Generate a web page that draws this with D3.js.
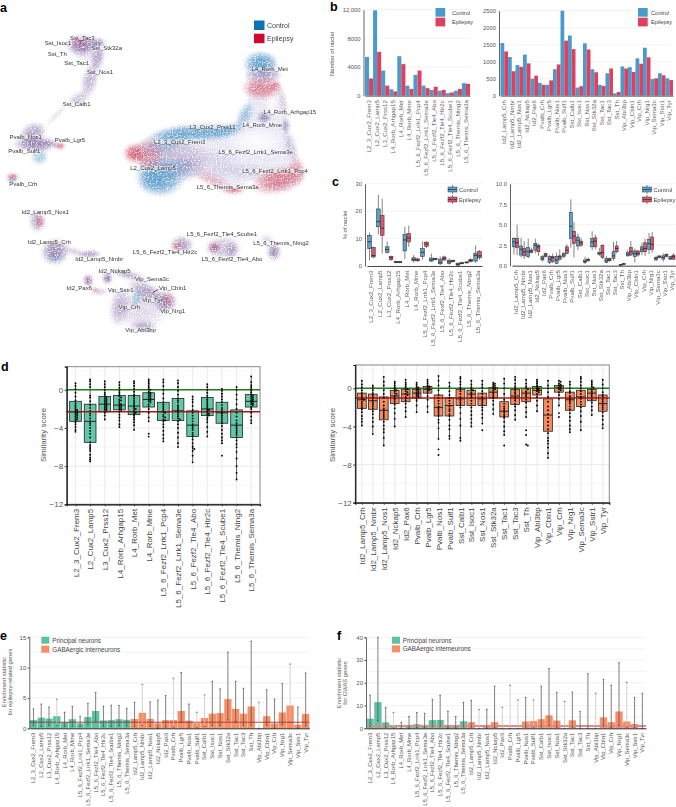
<!DOCTYPE html>
<html>
<head>
<meta charset="utf-8">
<script src="https://cdn.jsdelivr.net/npm/d3@7"></script>
<style>
  html, body { margin: 0; padding: 0; background: #fff; }
  svg { display: block; font-family: "Liberation Sans", Arial, sans-serif; }
</style>
</head>
<body>
<div id="chart"></div>
<script>
// ---------- categories ----------
var principal = ["L2_3_Cux2_Frem3","L2_Cux2_Lamp5","L3_Cux2_Prss12","L4_Rorb_Arhgap15","L4_Rorb_Met","L4_Rorb_Mme","L5_6_Fezf2_Lrrk1_Pcp4","L5_6_Fezf2_Lrrk1_Sema3e","L5_6_Fezf2_Tle4_Abo","L5_6_Fezf2_Tle4_Htr2c","L5_6_Fezf2_Tle4_Scube1","L5_6_Themis_Ntng2","L5_6_Themis_Sema3a"];
var inter = ["Id2_Lamp5_Crh","Id2_Lamp5_Nmbr","Id2_Lamp5_Nos1","Id2_Nckap5","Id2_Pax6","Pvalb_Crh","Pvalb_Lgr5","Pvalb_Nos1","Pvalb_Sulf1","Sst_Calb1","Sst_Isoc1","Sst_Nos1","Sst_Stk32a","Sst_Tac1","Sst_Tac3","Sst_Th","Vip_Abi3bp","Vip_Cbln1","Vip_Crh","Vip_Nrg1","Vip_Sema3c","Vip_Sstr1","Vip_Tyr"];
var allTypes = principal.concat(inter);

var umapLabels = [["Sst_Tac3",247,113],["Sst_Isoc1",174,129],["Sst_Stk32a",320,145],["Sst_Th",172,163],["Sst_Tac1",230,188],["Sst_Nos1",300,217],["Sst_Calb1",230,313],["Pvalb_Nos1",77,411],["Pvalb_Lgr5",210,421],["Pvalb_Sulf1",73,454],["Pvalb_Crh",70,553],["L4_Rorb_Met",809,208],["L4_Rorb_Arhgap15",870,337],["L4_Rorb_Mme",787,375],["L3_Cux2_Prss12",638,380],["L2_3_Cux2_Frem3",539,425],["L5_6_Fezf2_Lrrk1_Sema3e",767,456],["L5_6_Fezf2_Lrrk1_Pcp4",825,514],["L2_Cux2_Lamp5",459,505],["L5_6_Themis_Sema3a",683,562],["Id2_Lamp5_Nos1",136,637],["Id2_Lamp5_Crh",148,726],["Id2_Lamp5_Nmbr",298,778],["Id2_Nckap5",344,812],["Vip_Sema3c",456,837],["Id2_Pax6",238,865],["Vip_Sstr1",362,870],["Vip_Cbln1",518,863],["L5_6_Fezf2_Tle4_Scube1",666,701],["L5_6_Themis_Ntng2",843,730],["L5_6_Fezf2_Tle4_Htr2c",495,756],["L5_6_Fezf2_Tle4_Abo",696,776],["Vip_Tyr",457,900],["Vip_Crh",388,921],["Vip_Nrg1",518,934],["Vip_Abi3bp",422,989]];
var umapLeaders = [[240,130,250,120],[458,878,475,868]];
var principalOutline = [[385,460],[430,420],[480,395],[560,378],[640,380],[700,372],[730,340],[745,290],[740,230],[745,190],[785,165],[820,180],[835,215],[835,270],[850,330],[865,390],[880,440],[905,495],[910,530],[880,565],[840,575],[790,555],[750,540],[720,570],[690,578],[640,560],[590,530],[550,545],[500,575],[460,575],[430,550],[420,490]];
// cx, cy, rx, ry, angle, condition ("c" control, "e" epilepsy, "m" mixed, "w" empty), density
var umapDensity = [
  [770,425,70,32,0,"w",.8],[815,305,16,30,-10,"w",.8],
  [480,530,60,48,0,"c",.95],[455,540,30,30,0,"c",.5],[590,398,115,22,-4,"c",.85],[680,392,45,16,-15,"c",.7],[500,425,70,28,-20,"c",.55],[520,470,90,45,0,"m",.4],[540,505,40,25,0,"c",.45],
  [405,460,28,24,0,"e",1],[445,465,35,40,0,"e",.55],
  [735,345,18,35,25,"c",.55],[782,190,42,30,0,"c",.95],[790,225,45,18,0,"m",.6],[785,265,48,28,0,"e",.75],[825,258,16,12,0,"e",.7],
  [792,352,17,15,0,"m",.95],[857,378,11,18,0,"m",.7],[872,440,16,40,-15,"m",.35],[850,310,9,45,-10,"m",.4],
  [835,540,65,32,-15,"e",.8],[888,515,24,34,0,"e",.5],[700,570,28,10,0,"e",.8],[640,540,45,18,20,"e",.35],
  [640,490,70,40,0,"m",.2],[740,515,70,22,0,"m",.2],[565,505,40,30,0,"m",.3],
  [245,135,38,26,0,"m",.95],[238,125,16,11,0,"e",.65],[292,130,20,13,0,"m",.95],[292,172,17,34,10,"m",.7],
  [270,240,20,46,15,"m",.55],[235,298,28,18,-30,"m",.42],[170,345,42,5,-45,"m",.3],[255,165,28,20,0,"m",.2],
  [98,400,34,25,-30,"m",.7],[105,432,52,20,0,"m",.9],[180,438,14,8,0,"e",.95],[145,432,32,9,0,"m",.55],[118,470,21,20,0,"c",.55],
  [38,531,15,9,0,"e",1],[36,540,14,6,0,"c",.9],
  [112,662,20,28,0,"m",.65],[120,665,11,16,0,"e",.6],[165,755,34,32,0,"m",.85],[165,775,16,11,0,"c",.55],
  [225,755,42,8,20,"m",.45],[272,762,25,9,0,"m",.75],[265,842,12,15,0,"m",1],[258,838,6,6,0,"e",.8],[285,870,7,7,0,"e",.75],
  [322,835,12,14,0,"m",1],[300,875,20,9,0,"m",.4],[385,825,54,11,15,"m",.55],[425,930,66,50,0,"m",.3],
  [360,920,25,48,10,"m",.55],[495,905,29,26,0,"m",.9],[505,900,12,16,0,"e",.6],[440,875,48,21,25,"m",.7],
  [430,980,33,14,0,"m",.6],[410,895,13,24,10,"c",.55],
  [545,735,28,23,0,"m",.7],[530,738,13,9,0,"e",.65],[670,745,44,31,0,"m",.45],[642,742,14,14,0,"e",.8],[642,745,14,12,0,"m",.7],[695,750,16,20,0,"m",.6],
  [822,755,17,22,0,"m",.85],[800,722,17,17,0,"m",.3]
];

// ---------- panel b: number of nuclei ----------
var nucleiPrincipalControl = [5400,11900,3500,900,5500,1400,2900,1400,800,700,350,700,1750];
var nucleiPrincipalEpilepsy = [2400,6100,1400,600,4400,950,3500,1050,1250,800,450,950,1650];
var nucleiInterControl = [1550,1140,900,1210,500,380,320,780,2500,1770,240,1540,780,320,660,70,860,840,1100,1410,490,660,510];
var nucleiInterEpilepsy = [1300,720,850,950,590,320,450,920,1620,1370,280,1360,690,290,800,110,800,700,940,1130,510,600,460];

// ---------- panel c: % of nuclei, [low, q1, median, q3, high] ----------
var pctPrincipalControl = [[2,6.3,8.8,11.2,12.2],[11.5,14.3,16.2,20.8,26],[4.5,5,6,7,9],[1,1.2,1.4,1.6,2],[2.5,5.5,9.5,11.5,14.3],[1.2,1.9,2.4,3,4],[2.3,3.5,5,6.3,9],[1.5,1.8,2.2,2.9,4.5],[.3,.8,1.4,2.5,3.5],[.5,1,1.5,2.1,2.8],[0,.3,.6,1,1.4],[1,1.1,1.3,1.5,1.6],[1.2,1.8,3.9,4.7,7.5]];
var pctPrincipalEpilepsy = [[2.8,3.3,3.8,6.8,7],[4.5,11.2,13.8,18.5,24.5],[1.8,2.3,3,3.5,3.8],[1,1.2,1.4,1.6,1.9],[7,8.8,10.2,11.8,14.7],[1.5,1.9,2.2,2.6,3],[6.5,7.2,8,8.7,9],[2,2.3,2.6,2.8,3],[1.8,2.2,2.8,3.3,3.8],[1.3,1.6,1.8,2.1,2.4],[.6,.8,1,1.3,1.5],[1.3,1.6,2,2.4,2.7],[2.3,3,3.7,5.3,5.8]];
var pctInterControl = [[1.4,2.3,2.9,3.3,3.5],[1,1.3,2,2.4,3.4],[.9,1.1,1.7,2.2,3.3],[1.5,1.9,2.5,2.7,3.3],[.5,.7,.9,1.1,1.3],[.2,.4,.8,1.1,1.3],[.2,.3,.7,1.1,1.6],[.9,1.1,1.3,1.5,1.7],[2.2,3.3,4.8,6.5,8.1],[1.9,2.4,3.1,3.5,3.9],[.2,.4,.5,.7,1.1],[1.9,2.3,2.9,3.3,4.2],[1.2,1.4,1.5,1.6,2.2],[.3,.4,.6,.9,1.2],[.6,.9,1.2,1.7,2.9],[0,.05,.1,.15,.2],[1.1,1.2,1.4,1.6,1.9],[.4,1.1,1.5,1.8,2.1],[1.3,1.7,2,2.3,2.8],[1.4,2,2.7,3.2,4],[.6,.7,.9,1,1.2],[.5,.8,1,1.2,1.5],[.7,.8,.9,1.1,1.2]];
var pctInterEpilepsy = [[1.3,2.2,2.8,3.3,5],[.8,1.2,1.7,2.1,3],[1.5,1.6,1.8,1.9,2.2],[1.2,1.7,2.3,2.5,2.7],[1,1.1,1.3,1.5,1.6],[.3,.5,1,1.1,1.5],[.6,.8,1.1,1.2,2],[1.4,1.5,1.9,2.3,2.6],[1,2.7,3.6,4.2,5.3],[2.3,2.5,2.8,3,3.4],[.5,.6,.7,.8,1],[2,2.3,3,3.4,3.8],[.8,1,1.6,2.5,2.6],[.5,.6,.7,.9,1],[1.5,1.7,2.1,2.4,3],[.1,.15,.2,.25,.3],[1.2,1.3,1.7,2.2,3],[1.1,1.3,1.5,1.8,1.9],[1.2,1.7,2.1,2.8,3.3],[1.6,2,2.6,3.5,4.1],[.9,1,1.1,1.2,1.2],[1,1.1,1.3,1.4,1.5],[.7,.8,1.1,1.3,1.5]];

// ---------- panel d: similarity score ----------
var simBoxPrincipal = [[-4.4,-3.3,-2.3,-1.2,.7],[-7.5,-5.5,-3.3,-1.5,1.1],[-3.1,-2.3,-1.5,-.7,.9],[-3.9,-2.1,-1.6,-.6,.8],[-4.2,-2.6,-1.7,-.6,.9],[-3.3,-1.8,-1,-.3,1.1],[-5.4,-3.2,-2.3,-1.3,1.1],[-6,-3.2,-2.2,-.9,1],[-7.6,-4.9,-3.7,-2.2,-.7],[-4.9,-2.7,-2,-.8,.6],[-5.6,-3.5,-2.4,-1.3,.1],[-9.4,-5,-3.7,-2.1,.3],[-3.5,-1.8,-1.2,-.5,1.4]];
var simDotsPrincipal = [
  [.7,.4,.1,-.3,-.7,-1.1,-1.4,-1.6,-1.8,-2,-2.1,-2.2,-2.3,-2.4,-2.5,-2.6,-2.7,-2.8,-2.9,-3,-3.1,-3.2,-3.4,-3.6,-3.9,-4.2,-4.4],
  [1.1,.9,.6,.3,-.6,-.8,-1.2,-1.6,-1.9,-2.2,-2.5,-2.7,-3,-3.3,-3.5,-3.7,-4,-4.3,-4.6,-5,-5.5,-5.8,-6,-6.2,-6.4,-6.8,-7.1,-7.3,-7.5],
  [.9,.6,.3,0,-.3,-.5,-.7,-.8,-.9,-1,-1.1,-1.2,-1.3,-1.4,-1.5,-1.6,-1.7,-1.8,-1.9,-2,-2.1,-2.2,-2.4,-2.7,-3.1],
  [.8,.5,.2,-.1,-.3,-.5,-.7,-.8,-1,-1.1,-1.2,-1.4,-1.5,-1.6,-1.7,-1.8,-1.9,-2,-2.1,-2.3,-2.6,-2.9,-3.2,-3.6,-3.9],
  [.9,.7,.4,.1,-.2,-.5,-.7,-.9,-1.1,-1.3,-1.5,-1.7,-1.9,-2,-2.1,-2.3,-2.4,-2.5,-2.7,-2.9,-3.1,-3.4,-3.7,-4.2],
  [1.1,.9,.7,.5,.3,.1,0,-.2,-.3,-.4,-.5,-.6,-.7,-.8,-.9,-1,-1.1,-1.2,-1.3,-1.5,-1.7,-2,-2.4,-2.9,-3.3,-4.6,-4.9],
  [1.1,.8,.4,0,-.4,-.9,-1.3,-1.5,-1.7,-1.9,-2.1,-2.3,-2.4,-2.6,-2.8,-2.9,-3.1,-3.2,-3.3,-3.6,-3.9,-4.3,-4.7,-5.1,-5.4],
  [1,.7,.3,-.1,-.5,-.9,-1.1,-1.3,-1.6,-1.8,-2,-2.2,-2.4,-2.6,-2.8,-3,-3.1,-3.3,-3.6,-4,-4.5,-5,-5.6,-6],
  [-.7,-1,-1.3,-1.7,-2.1,-2.4,-2.7,-3,-3.3,-3.6,-3.8,-4,-4.2,-4.5,-4.7,-4.9,-5.2,-5.6,-5.9,-6.1,-6.2,-6.4,-6.9,-7.6],
  [.6,.3,0,-.3,-.6,-.8,-1,-1.2,-1.4,-1.6,-1.8,-2,-2.1,-2.2,-2.4,-2.5,-2.6,-2.7,-2.9,-3.1,-3.4,-3.9,-4.4,-4.9],
  [.1,-.1,-.4,-.7,-1,-1.3,-1.6,-1.9,-2.1,-2.3,-2.5,-2.7,-2.9,-3.1,-3.3,-3.5,-3.8,-4.2,-4.6,-5,-5.3,-5.6,-6.9],
  [.3,0,-.5,-1,-1.5,-2,-2.4,-2.8,-3.2,-3.5,-3.7,-3.9,-4.1,-4.3,-4.5,-4.7,-5,-5.3,-5.7,-6,-6.5,-7.2,-8,-8.7,-9.4],
  [1.4,.8,.5,.3,.1,-.1,-.3,-.5,-.6,-.7,-.8,-.9,-1,-1.1,-1.2,-1.3,-1.4,-1.5,-1.6,-1.8,-2,-2.4,-2.8,-3.2,-3.5]
];
var simBoxInter = [[-3.9,-2.1,-1.2,-.5,.8],[-4.8,-2.2,-1.3,-.6,.3],[-6,-3.3,-2.3,-.9,1.2],[-4,-1.6,-.8,-.2,.7],[-3,-1.4,-.6,-.1,.9],[-2.5,-1,-.5,-.1,.6],[-2.5,-.5,-.1,.2,.9],[-5.4,-2.9,-2,-.7,1.3],[-5.3,-2.9,-1.8,-1,.6],[-5.5,-1.8,-1.1,-.1,1.2],[-4,-1.8,-.6,-.2,.8],[-3.7,-1.8,-1.1,-.5,.8],[-2.7,-1,-.4,.1,.6],[-4.9,-3,-2.4,-1.4,1],[-3.3,-1.7,-.8,-.1,1.2],[-3,-1.4,-.5,0,.9],[-2.4,-.7,-.2,.2,.9],[-7.3,-4.5,-2.8,-1.1,.8],[-1.8,-.4,.1,.3,.8],[-4.6,-2.3,-1.2,-.4,.7],[-4.4,-1.9,-.9,-.2,1.2],[-2.8,-1.3,-.5,-.1,.8],[-4.2,-2.4,-1.6,-.7,.9]];
var simDotsInter = [
  [.8,.4,.1,-.2,-.5,-.7,-.9,-1.1,-1.2,-1.4,-1.6,-1.8,-2,-2.2,-2.5,-2.9,-3.2,-3.5,-3.9],
  [.3,.1,-.2,-.5,-.7,-.9,-1.1,-1.3,-1.5,-1.7,-1.9,-2.1,-2.4,-2.7,-3.1,-3.5,-4,-4.8],
  [1.2,.7,.3,-.2,-.6,-1,-1.4,-1.8,-2.1,-2.3,-2.5,-2.7,-2.9,-3.1,-3.5,-3.9,-4.3,-4.6,-5.2,-6],
  [.7,.5,.3,.1,-.1,-.2,-.3,-.5,-.6,-.8,-1,-1.2,-1.4,-1.7,-2.1,-2.6,-3.2,-4],
  [.9,.6,.4,.2,0,-.1,-.3,-.4,-.6,-.7,-.9,-1.1,-1.3,-1.6,-2,-2.4,-3],
  [.6,.4,.2,.1,0,-.1,-.2,-.3,-.4,-.5,-.6,-.7,-.8,-.9,-1.1,-1.3,-1.8,-2.5],
  [.9,.7,.5,.3,.2,.1,0,-.1,-.2,-.3,-.5,-.8,-1.2,-1.9,-2.5],
  [1.3,.8,.3,-.2,-.7,-1,-1.3,-1.6,-1.9,-2.1,-2.3,-2.5,-2.7,-2.9,-3.3,-3.6,-4.2,-5.3,-6.4,-7],
  [.6,.2,-.3,-.7,-1,-1.3,-1.6,-1.9,-2.2,-2.4,-2.7,-2.9,-3.3,-3.9,-4.3,-5,-5.3],
  [1.2,1,.7,.4,.1,-.1,-.3,-.6,-.9,-1.1,-1.3,-1.5,-1.7,-2,-2.6,-3.2,-3.9,-5.2,-5.5],
  [.8,.4,.1,-.1,-.2,-.4,-.6,-.8,-1,-1.3,-1.6,-2,-2.4,-2.8,-3.2,-3.6,-4],
  [.8,.4,.1,-.3,-.6,-.9,-1.1,-1.3,-1.5,-1.7,-2,-2.3,-2.7,-3.1,-3.7,-4.4],
  [.6,.5,.4,.3,.2,.1,0,-.1,-.2,-.4,-.6,-.8,-1,-1.3,-1.7,-2.2,-2.7],
  [1,.5,0,-.6,-1.2,-1.6,-1.9,-2.1,-2.3,-2.5,-2.7,-2.9,-3.1,-3.5,-4,-4.5,-4.9,-6],
  [1.2,.9,.5,.2,0,-.2,-.4,-.6,-.9,-1.1,-1.3,-1.6,-1.9,-2.3,-2.8,-3.3],
  [.9,.5,.2,0,-.1,-.3,-.5,-.7,-.9,-1.2,-1.5,-2,-2.5,-3,-4.4,-4.9,-5.9,-6],
  [.9,.7,.5,.3,.1,0,-.1,-.2,-.3,-.4,-.6,-.9,-1.3,-1.8,-2.4],
  [.8,.3,0,-.4,-.9,-1.4,-1.9,-2.3,-2.7,-3.1,-3.5,-3.9,-4.3,-4.7,-5.2,-5.5,-5.8,-6.2,-6.8,-7.3],
  [.8,.7,.5,.4,.3,.2,.1,0,-.1,-.2,-.4,-.7,-1.1,-1.8,-2.6,-3],
  [.7,.4,0,-.3,-.5,-.8,-1,-1.2,-1.4,-1.6,-1.9,-2.2,-2.6,-3,-3.4,-3.9,-4.3,-4.6],
  [1.2,1,.7,.3,0,-.3,-.6,-.9,-1.1,-1.4,-1.7,-2,-2.4,-2.9,-3.5,-4.4],
  [.8,.6,.4,.2,.1,-.1,-.3,-.5,-.7,-.9,-1.2,-1.5,-1.9,-2.3,-2.8],
  [.9,.4,0,-.4,-.7,-.9,-1.2,-1.4,-1.6,-1.8,-2,-2.2,-2.5,-2.9,-3.3,-3.8,-4.2]
];
var simThresholdPrincipal = -2.3;
var simThresholdInter = -1;

// ---------- panels e, f: enrichment, [statistic, low, high] ----------
var enrichEpilepsy = [[1.35,.5,3.2],[1.75,.3,4],[1.6,.5,3.5],[2,.5,4.8],[1,.3,2.65],[1.5,.3,3.6],[.8,.3,2],[1.85,.6,4.1],[2.85,1.2,5.9],[1.3,.3,3.65],[1.35,.3,3.8],[1.5,.4,3.75],[1.4,.4,3.3],[1.55,.3,4.3],[2.55,.5,7.25],[1.55,.3,4.35],[.8,0,4.65],[1.35,.2,5.4],[1.35,.2,8.25],[2.85,1,9.2],[1.25,.2,4],[.85,.1,2.65],[1.7,.3,5.5],[2.4,.5,7.75],[2.5,.5,6.5],[4.8,1.4,12.55],[3.2,1.1,7.75],[2.4,.5,6.6],[3.6,.5,14.35],[0,0,4.3],[2,.5,6.35],[.8,0,4.8],[2.6,.6,7.4],[3.75,1,10.6],[.6,0,3.5],[2.35,.4,9.1]];
var enrichGwas = [[4.2,.8,14.5],[11.5,3.3,40],[2.6,.5,9.2],[1,0,7],[.3,0,2.6],[1,0,5.2],[1.8,.3,6.9],[1.4,.2,6.6],[3.6,.8,12.7],[3.7,.9,14.5],[1,0,7.5],[1,0,5.2],[3.1,.7,11.4],[2.7,.5,12.3],[0,0,8.2],[1.2,0,8.3],[2.7,.3,18.5],[0,0,9.2],[0,0,18.9],[0,0,12.5],[3,.5,13.6],[3.2,.5,12.5],[4,.7,18.5],[5.7,1.2,26.3],[3.4,.5,15.8],[0,0,11.8],[3.5,.5,15.9],[0,0,7.4],[0,0,24],[0,0,15.4],[4.8,1,21.5],[2.7,.4,18.9],[7.4,1.2,28.8],[3,.5,20.2],[1.9,.3,13.6],[0,0,15.4]];
var paleWhiskersE = ["L4_Rorb_Arhgap15","Id2_Lamp5_Nmbr","Pvalb_Crh","Pvalb_Sulf1","Sst_Calb1","Vip_Abi3bp","Vip_Sema3c"];
var paleWhiskersF = ["L4_Rorb_Arhgap15","Id2_Lamp5_Nmbr","Id2_Pax6","Pvalb_Crh","Pvalb_Lgr5","Pvalb_Sulf1","Sst_Stk32a","Vip_Abi3bp","Vip_Sema3c"];

var conditions = ["Control","Epilepsy"];
var groupNames = ["Principal neurons","GABAergic interneurons"];

// colours
var blue = "#4a9bcb", red = "#e0405f", green = "#5cc2a2", orange = "#f98d63";
var textGrey = "#555";

var svg = d3.select("#chart").append("svg").attr("width", 676).attr("height", 807);
svg.append("rect").attr("width", 676).attr("height", 807).attr("fill", "#fff");

// panel letters
[["a",0,12],["b",330,10.5],["c",332,186],["d",1,371],["e",0,640],["f",337,640]].forEach(function(d) {
  svg.append("text").attr("x", d[1]).attr("y", d[2]).attr("font-size", 12.5).attr("font-weight", "bold").attr("fill", "#000").text(d[0]);
});

function xLabels(g, size, fill) {
  g.selectAll(".tick text")
    .attr("transform", "rotate(-90)")
    .attr("text-anchor", "end")
    .attr("x", -4.5).attr("y", 0).attr("dy", ".33em")
    .attr("font-size", size).attr("fill", fill);
}

function yTitle(x, y, lines, size) {
  lines.forEach(function(t, i) {
    svg.append("text").attr("transform", "translate(" + (x + i * size * 1.1) + "," + y + ") rotate(-90)")
      .attr("text-anchor", "middle").attr("font-size", size).attr("fill", textGrey).text(t);
  });
}

function legend(x, y, names, colors, size, step, textX, fontSize) {
  names.forEach(function(n, i) {
    svg.append("rect").attr("x", x).attr("y", y + i * step).attr("width", size).attr("height", size - 1).attr("fill", colors[i]);
    svg.append("text").attr("x", x + textX).attr("y", y + i * step + size / 2 + 1.8).attr("font-size", fontSize).attr("fill", "#444").text(n);
  });
}

function drawFrameAxes(g, x, y, width, height, tickVals, tickFormat, fontLeft) {
  g.append("g").selectAll("line").data(tickVals).enter().append("line")
    .attr("x1", 0).attr("x2", width).attr("y1", function(d) { return y(d); }).attr("y2", function(d) { return y(d); })
    .attr("stroke", "#eee").attr("stroke-width", .7);
  var ax = g.append("g").call(d3.axisLeft(y).tickValues(tickVals).tickFormat(tickFormat).tickSize(0));
  ax.select(".domain").attr("stroke", "#555").attr("stroke-width", .9);
  ax.selectAll("text").attr("font-size", fontLeft).attr("fill", textGrey).attr("x", -3);
}

// ---------- panel a ----------
var defs = svg.append("defs");
var grain = defs.append("filter").attr("id", "grain").attr("x", "-20%").attr("y", "-20%").attr("width", "140%").attr("height", "140%");
grain.append("feGaussianBlur").attr("in", "SourceGraphic").attr("stdDeviation", 1.8).attr("result", "soft");
grain.append("feTurbulence").attr("type", "fractalNoise").attr("baseFrequency", .8).attr("numOctaves", 2).attr("seed", 3).attr("result", "noise");
grain.append("feColorMatrix").attr("in", "noise").attr("type", "matrix")
  .attr("values", "0 0 0 0 0  0 0 0 0 0  0 0 0 0 0  2.6 2.6 0 0 -1.6").attr("result", "speck");
grain.append("feComposite").attr("in", "soft").attr("in2", "speck").attr("operator", "in");

var condColor = {c: "#2a80bd", e: "#cf2c48", m: "#6a4a92", w: "#ffffff"};
Object.keys(condColor).forEach(function(k) {
  var grad = defs.append("radialGradient").attr("id", "density-" + k);
  [[0, 1], [.5, .75], [1, 0]].forEach(function(s) {
    grad.append("stop").attr("offset", s[0]).attr("stop-color", condColor[k]).attr("stop-opacity", s[1]);
  });
});

var ux = d3.scaleLinear().domain([0, 990]).range([0, 330]);
var uy = d3.scaleLinear().domain([0, 1020]).range([0, 340]);
var umapSpread = 1.3;

var cloud = svg.append("g").attr("filter", "url(#grain)").attr("opacity", .8);
cloud.append("path").attr("d", d3.line().x(function(d) { return ux(d[0]); }).y(function(d) { return uy(d[1]); }).curve(d3.curveCatmullRomClosed)(principalOutline))
  .attr("fill", "#aeb0dc").attr("opacity", .36);
cloud.selectAll("ellipse").data(umapDensity).enter().append("ellipse")
  .attr("rx", function(d) { return ux(d[2]) * umapSpread; }).attr("ry", function(d) { return uy(d[3]) * umapSpread; })
  .attr("transform", function(d) { return "translate(" + ux(d[0]) + "," + uy(d[1]) + ") rotate(" + d[4] + ")"; })
  .attr("fill", function(d) { return "url(#density-" + d[5] + ")"; }).attr("opacity", function(d) { return d[6]; });

svg.append("g").selectAll("line").data(umapLeaders).enter().append("line")
  .attr("x1", function(d) { return ux(d[0]); }).attr("y1", function(d) { return uy(d[1]); })
  .attr("x2", function(d) { return ux(d[2]); }).attr("y2", function(d) { return uy(d[3]); })
  .attr("stroke", "#000").attr("stroke-width", .6);

var umapLabelG = svg.append("g").selectAll("g").data(umapLabels).enter().append("g");
umapLabelG.append("text").attr("x", function(d) { return ux(d[1]); }).attr("y", function(d) { return uy(d[2]); })
  .attr("dy", ".35em").attr("text-anchor", "middle").attr("font-size", 6).attr("fill", "#333")
  .text(function(d) { return d[0]; });
umapLabelG.insert("rect", "text").each(function() {
  var b = this.parentNode.querySelector("text").getBBox();
  d3.select(this).attr("x", b.x).attr("y", b.y + .6).attr("width", b.width).attr("height", b.height - 1.2);
}).attr("fill", "#fff").attr("opacity", .5);

legend(254, 20.5, conditions, ["#0b72b5", "#cf0a2c"], 10.5, 13.2, 13, 7);

// ---------- panel b ----------
function drawBars(left, top, width, height, cats, control, epilepsy, ymax, ticks, fmt) {
  var g = svg.append("g").attr("transform", "translate(" + left + "," + top + ")");
  var x = d3.scaleBand().domain(cats).range([1.5, width]);
  var y = d3.scaleLinear().domain([0, ymax]).range([height, 0]);
  drawFrameAxes(g, x, y, width, height, ticks, fmt, 5.8);
  [control, epilepsy].forEach(function(vals, k) {
    g.append("g").selectAll("rect").data(vals).enter().append("rect")
      .attr("x", function(d, i) { return x(cats[i]) + k * x.bandwidth() / 2; })
      .attr("width", x.bandwidth() / 2)
      .attr("y", function(d) { return y(d); })
      .attr("height", function(d) { return height - y(d); })
      .attr("fill", k ? red : blue);
  });
  var xa = g.append("g").attr("transform", "translate(0," + height + ")").call(d3.axisBottom(x).tickSize(0));
  xa.select(".domain").attr("stroke", "#555").attr("stroke-width", .9);
  xLabels(xa, 6.1, "#666");
}
drawBars(363.5, 9.6, 106.5, 86.1, principal, nucleiPrincipalControl, nucleiPrincipalEpilepsy, 12000, [0,4000,8000,12000], function(d) { return d === 12000 ? "12,000" : d; });
drawBars(499, 10.7, 174, 85, inter, nucleiInterControl, nucleiInterEpilepsy, 2500, [0,500,1000,1500,2000,2500], d3.format("d"));
yTitle(334, 54, ["Number of nuclei"], 5.8);
legend(435.5, 8, conditions, [blue, red], 9.7, 9.7, 16.5, 5.6);
legend(638, 8, conditions, [blue, red], 9.7, 9.7, 13, 5.6);

// ---------- panel c ----------
function drawBoxes(left, top, width, height, cats, control, epilepsy, ymax, ticks, fmt) {
  var g = svg.append("g").attr("transform", "translate(" + left + "," + top + ")");
  var x = d3.scaleBand().domain(cats).range([2, width]);
  var y = d3.scaleLinear().domain([0, ymax]).range([height, 0]);
  drawFrameAxes(g, x, y, width, height, ticks, fmt, 5.8);
  var w = x.bandwidth() * .42;
  [control, epilepsy].forEach(function(vals, k) {
    var cell = g.append("g").selectAll("g").data(vals).enter().append("g")
      .attr("transform", function(d, i) { return "translate(" + (x(cats[i]) + x.bandwidth() * (k ? .72 : .28)) + ",0)"; });
    cell.append("line").attr("y1", function(d) { return y(d[0]); }).attr("y2", function(d) { return y(d[4]); }).attr("stroke", "#333").attr("stroke-width", .6);
    cell.append("rect").attr("x", -w / 2).attr("width", w)
      .attr("y", function(d) { return y(d[3]); }).attr("height", function(d) { return Math.max(.5, y(d[1]) - y(d[3])); })
      .attr("fill", k ? "#dc566f" : "#5aa2cc").attr("stroke", "#333").attr("stroke-width", .55);
    cell.append("line").attr("x1", -w / 2).attr("x2", w / 2).attr("y1", function(d) { return y(d[2]); }).attr("y2", function(d) { return y(d[2]); }).attr("stroke", "#222").attr("stroke-width", .8);
  });
  var xa = g.append("g").attr("transform", "translate(0," + height + ")").call(d3.axisBottom(x).tickSize(0));
  xa.select(".domain").attr("stroke", "#333").attr("stroke-width", .9);
  xLabels(xa, 6.1, "#666");
}
drawBoxes(365, 183.7, 117, 82.3, principal, pctPrincipalControl, pctPrincipalEpilepsy, 30, [0,10,20,30], d3.format("d"));
drawBoxes(510, 183.7, 165.5, 82, inter, pctInterControl, pctInterEpilepsy, 10, [0,2.5,5,7.5,10], d3.format(".1f"));
yTitle(347, 225, ["% of nuclei"], 5.8);
function boxLegend(x, y) {
  conditions.forEach(function(n, i) {
    var yy = y + i * 10;
    svg.append("line").attr("x1", x + 4.5).attr("x2", x + 4.5).attr("y1", yy - 1).attr("y2", yy + 8).attr("stroke", "#333").attr("stroke-width", .6);
    svg.append("rect").attr("x", x).attr("y", yy + 1).attr("width", 9).attr("height", 5).attr("fill", i ? "#dc566f" : "#5aa2cc").attr("stroke", "#333").attr("stroke-width", .5);
    svg.append("line").attr("x1", x).attr("x2", x + 9).attr("y1", yy + 3.5).attr("y2", yy + 3.5).attr("stroke", "#222").attr("stroke-width", .6);
    svg.append("text").attr("x", x + 11).attr("y", yy + 5.5).attr("font-size", 5.8).attr("fill", "#444").text(n);
  });
}
boxLegend(448, 186);
boxLegend(642.5, 186);

// ---------- panel d ----------
function dodge(values, cx, y, radius) {
  var placed = [];
  return values.slice().sort(d3.descending).map(function(v) {
    var py = y(v), off = 0, n = 0;
    while (placed.some(function(p) { return Math.hypot(p[0] - off, p[1] - py) < radius * 1.5; })) {
      n++;
      off = (n % 2 ? 1 : -1) * Math.ceil(n / 2) * radius * .9;
    }
    placed.push([off, py]);
    return [cx + off, py];
  });
}

function drawSimilarity(left, top, width, height, yTop, yBottom, cats, boxes, dots, threshold, fill) {
  var g = svg.append("g").attr("transform", "translate(" + left + "," + top + ")");
  var x = d3.scalePoint().domain(cats).range([0, width]).padding(.6);
  var y = d3.scaleLinear().domain([yBottom, yTop]).range([height, 0]);
  var bw = x.step() * .8;
  // grid
  g.append("g").selectAll("line").data([-10,-6,-2,2]).enter().append("line").attr("x1", 0).attr("x2", width)
    .attr("y1", function(d) { return y(d); }).attr("y2", function(d) { return y(d); }).attr("stroke", "#f2f2f2").attr("stroke-width", .6);
  g.append("g").selectAll("line").data([-12,-8,-4,0]).enter().append("line").attr("x1", 0).attr("x2", width)
    .attr("y1", function(d) { return y(d); }).attr("y2", function(d) { return y(d); }).attr("stroke", "#e6e6e6").attr("stroke-width", .8);
  g.append("g").selectAll("line").data(cats).enter().append("line").attr("y1", 0).attr("y2", height)
    .attr("x1", function(d) { return x(d); }).attr("x2", function(d) { return x(d); }).attr("stroke", "#e6e6e6").attr("stroke-width", .8);
  g.append("rect").attr("width", width).attr("height", height).attr("fill", "none").attr("stroke", "#888").attr("stroke-width", 1);
  // boxes
  var cell = g.append("g").selectAll("g").data(boxes).enter().append("g")
    .attr("transform", function(d, i) { return "translate(" + x(cats[i]) + ",0)"; });
  cell.append("line").attr("y1", function(d) { return y(d[0]); }).attr("y2", function(d) { return y(d[4]); }).attr("stroke", "#222").attr("stroke-width", .7);
  cell.append("rect").attr("x", -bw / 2).attr("width", bw)
    .attr("y", function(d) { return y(d[3]); }).attr("height", function(d) { return y(d[1]) - y(d[3]); })
    .attr("fill", fill).attr("stroke", "#222").attr("stroke-width", .8);
  cell.append("line").attr("x1", -bw / 2).attr("x2", bw / 2).attr("y1", function(d) { return y(d[2]); }).attr("y2", function(d) { return y(d[2]); }).attr("stroke", "#222").attr("stroke-width", 1);
  // reference lines
  g.append("line").attr("x1", 0).attr("x2", width).attr("y1", y(0)).attr("y2", y(0)).attr("stroke", "#1f7f1f").attr("stroke-width", 1.5);
  g.append("line").attr("x1", 0).attr("x2", width).attr("y1", y(threshold)).attr("y2", y(threshold)).attr("stroke", "#a51616").attr("stroke-width", 1.5);
  // dots
  dots.forEach(function(vals, i) {
    g.append("g").selectAll("circle").data(dodge(vals, x(cats[i]), y, .95)).enter().append("circle")
      .attr("cx", function(d) { return d[0]; }).attr("cy", function(d) { return d[1]; }).attr("r", .95).attr("fill", "#000");
  });
  // axes
  var ya = g.append("g").call(d3.axisLeft(y).tickValues([0,-4,-8,-12]).tickSize(2).tickFormat(function(d) { return d < 0 ? "\u2212" + (-d) : d; }));
  ya.select(".domain").attr("stroke", "#111").attr("stroke-width", 1.2);
  ya.selectAll("line").attr("stroke", "#333");
  ya.selectAll("text").attr("font-size", 8).attr("fill", textGrey).attr("x", -3.5);
  var xa = g.append("g").attr("transform", "translate(0," + height + ")").call(d3.axisBottom(x).tickSize(2));
  xa.select(".domain").attr("stroke", "#111").attr("stroke-width", 1.2);
  xa.selectAll("line").attr("stroke", "#333");
  xLabels(xa, 8, "#444");
}
drawSimilarity(66.7, 366.7, 193.3, 137.6, 2.43, -12, principal, simBoxPrincipal, simDotsPrincipal, simThresholdPrincipal, "#60c8a7");
drawSimilarity(355.3, 365, 254, 137.7, 2.45, -12, inter, simBoxInter, simDotsInter, simThresholdInter, "#f68d5f");
yTitle(46, 435, ["Similarity score"], 8);
yTitle(335, 435, ["Similarity score"], 8);

// ---------- panels e, f ----------
function drawEnrichment(left, top, width, height, data, ymax, ticks, grid, pale, lineColor, lineWidth) {
  var g = svg.append("g").attr("transform", "translate(" + left + "," + top + ")");
  var x = d3.scaleBand().domain(allTypes).range([.5, width]).paddingInner(.06);
  var y = d3.scaleLinear().domain([0, ymax]).range([height, 0]);
  g.append("g").selectAll("line").data(grid).enter().append("line").attr("x1", 0).attr("x2", width)
    .attr("y1", function(d) { return y(d); }).attr("y2", function(d) { return y(d); }).attr("stroke", "#eee").attr("stroke-width", .7);
  g.append("g").selectAll("rect").data(data).enter().append("rect")
    .attr("x", function(d, i) { return x(allTypes[i]); }).attr("width", x.bandwidth())
    .attr("y", function(d) { return y(d[0]); }).attr("height", function(d) { return height - y(d[0]); })
    .attr("fill", function(d, i) { return i < principal.length ? green : orange; });
  g.append("line").attr("x1", 0).attr("x2", width).attr("y1", y(1)).attr("y2", y(1)).attr("stroke", lineColor).attr("stroke-width", lineWidth);
  var err = g.append("g").selectAll("g").data(data).enter().append("g")
    .attr("transform", function(d, i) { return "translate(" + (x(allTypes[i]) + x.bandwidth() / 2) + ",0)"; })
    .attr("stroke", function(d, i) { return pale.indexOf(allTypes[i]) >= 0 ? "#c4c4c4" : "#555"; }).attr("stroke-width", .75);
  err.append("line").attr("y1", function(d) { return y(d[1]); }).attr("y2", function(d) { return y(d[2]); });
  err.append("line").attr("x1", -.8).attr("x2", .8).attr("y1", function(d) { return y(d[2]); }).attr("y2", function(d) { return y(d[2]); }).attr("stroke", "#444");
  err.append("line").attr("x1", -.8).attr("x2", .8).attr("y1", function(d) { return y(d[1]); }).attr("y2", function(d) { return y(d[1]); }).attr("stroke", "#444");
  var ya = g.append("g").call(d3.axisLeft(y).tickValues(ticks).tickSize(1.5));
  ya.select(".domain").attr("stroke", "#444").attr("stroke-width", .8);
  ya.selectAll("line").attr("stroke", "#444");
  ya.selectAll("text").attr("font-size", 6).attr("fill", textGrey).attr("x", -3);
  var xa = g.append("g").attr("transform", "translate(0," + height + ")").call(d3.axisBottom(x).tickSize(0));
  xa.select(".domain").attr("stroke", "#222").attr("stroke-width", 1);
  xLabels(xa, 5.9, "#555");
}
drawEnrichment(29.3, 637.3, 280, 91, enrichEpilepsy, 15, [0,5,10,15], [2.5,5,7.5,10,12.5,15], paleWhiskersE, "#a53030", .9);
drawEnrichment(366, 637.3, 280, 91, enrichGwas, 40, [0,10,20,30,40], [5,10,15,20,25,30,35,40], paleWhiskersF, "#e08a8a", 2);
yTitle(5.5, 682, ["Enrichment statistic", "for epilepsy-related genes"], 5.8);
yTitle(341, 683, ["Enrichment statistic", "for GWAS genes"], 5.8);
legend(41.3, 636.7, groupNames, [green, orange], 8, 9, 11, 6.3);
legend(392, 636.7, groupNames, [green, orange], 8, 8.7, 10.7, 6.3);
</script>
</body>
</html>
